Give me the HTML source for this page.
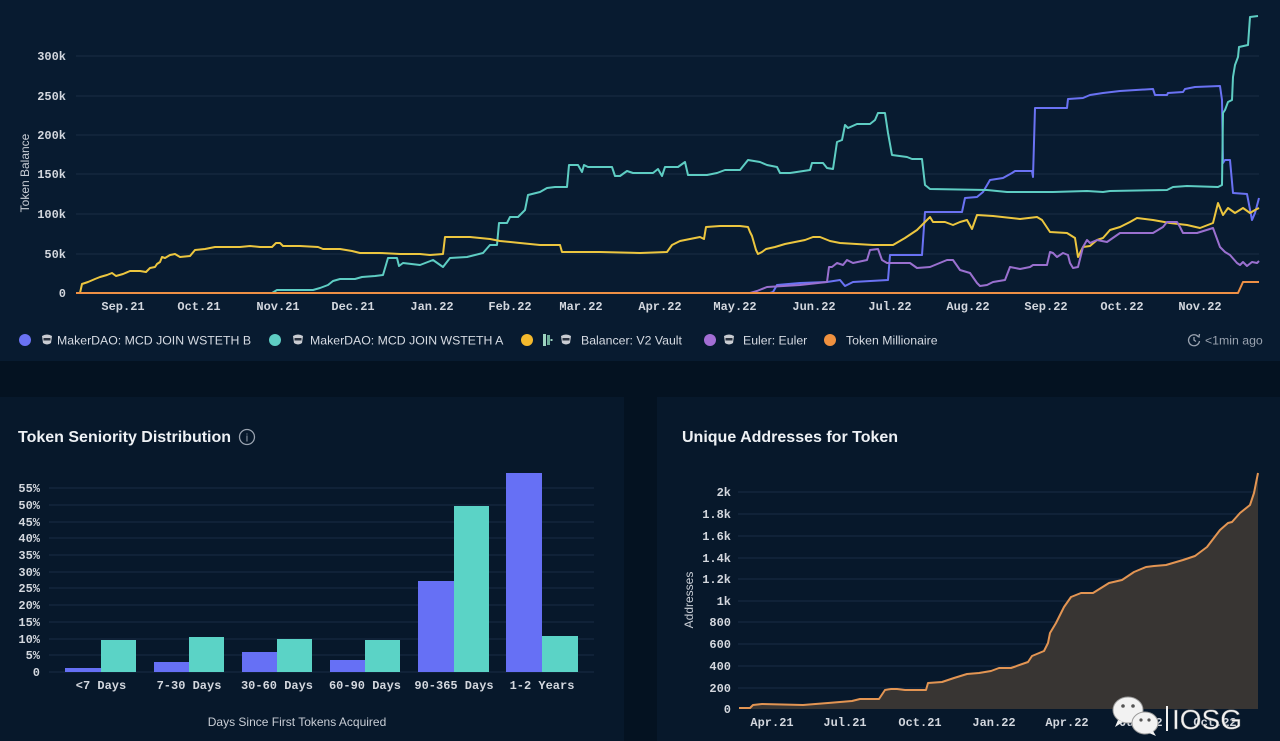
<!DOCTYPE html>
<html><head><meta charset="utf-8"><style>
html,body{margin:0;padding:0;background:#051222;}
svg{display:block}
.tk{font-family:"Liberation Mono",monospace;font-size:12px;font-weight:bold;fill:#d3d7de}
.sa{font-family:"Liberation Sans",sans-serif}
</style></head><body>
<svg width="1280" height="741" viewBox="0 0 1280 741" xmlns="http://www.w3.org/2000/svg">
<rect x="0" y="0" width="1280" height="741" fill="#041221"/>
<rect x="0" y="0" width="1280" height="361" fill="#081b30"/>
<rect x="0" y="397" width="624" height="344" fill="#07182b"/>
<rect x="657" y="397" width="623" height="344" fill="#07182b"/>

<!-- TOP CHART -->
<g stroke="#1a2d44" stroke-width="1">
<line x1="76" y1="56" x2="1259" y2="56"/><line x1="76" y1="96" x2="1259" y2="96"/>
<line x1="76" y1="135" x2="1259" y2="135"/><line x1="76" y1="174" x2="1259" y2="174"/>
<line x1="76" y1="214" x2="1259" y2="214"/><line x1="76" y1="254" x2="1259" y2="254"/>
</g>
<g class="tk" text-anchor="end">
<text x="66" y="60">300k</text><text x="66" y="100">250k</text><text x="66" y="139">200k</text>
<text x="66" y="178">150k</text><text x="66" y="218">100k</text><text x="66" y="258">50k</text>
<text x="66" y="297">0</text>
</g>
<text class="sa" x="0" y="0" transform="translate(29,173) rotate(-90)" text-anchor="middle" font-size="12" fill="#c8cdd5">Token Balance</text>
<g class="tk" text-anchor="middle">
<text x="123" y="310">Sep.21</text><text x="199" y="310">Oct.21</text><text x="278" y="310">Nov.21</text>
<text x="353" y="310">Dec.21</text><text x="432" y="310">Jan.22</text><text x="510" y="310">Feb.22</text>
<text x="581" y="310">Mar.22</text><text x="660" y="310">Apr.22</text><text x="735" y="310">May.22</text>
<text x="814" y="310">Jun.22</text><text x="890" y="310">Jul.22</text><text x="968" y="310">Aug.22</text>
<text x="1046" y="310">Sep.22</text><text x="1122" y="310">Oct.22</text><text x="1200" y="310">Nov.22</text>
</g>
<g fill="none" stroke-width="2" stroke-linejoin="round">
<polyline stroke="#6a72f3" points="76,293 770,293 773,292 777,285 800,283 827,282 840,280 845,286 853,282 888,280 890,255 922,255 925,212 962,212 965,198 977,197 983,192 990,180 1003,178 1012,173 1015,171 1032,171 1033,177 1035,108 1067,108 1068,99 1083,98 1090,95 1103,93 1120,91 1153,89 1155,95 1167,95 1168,93 1183,92 1185,89 1195,87 1220,86 1222,100 1223,163 1225,160 1230,160 1233,193 1247,194 1252,220 1255,213 1259,198"/>
<polyline stroke="#5ecdc3" points="76,293 272,293 277,290 313,290 320,288 328,285 333,281 340,279 355,279 362,277 375,276 383,275 388,258 397,258 399,266 403,263 420,265 433,260 443,267 450,258 467,257 483,253 490,245 497,245 499,223 507,223 510,217 518,217 525,210 528,195 540,192 547,188 555,187 567,187 569,165 578,165 582,172 584,165 588,167 612,167 615,176 620,176 627,171 633,173 653,173 658,169 662,176 665,167 678,167 685,162 688,175 707,175 717,173 725,170 740,170 748,160 760,162 767,165 777,167 780,173 790,173 810,170 812,163 823,163 827,168 833,169 837,142 842,140 845,125 848,128 857,124 870,124 875,120 878,113 885,113 888,133 892,155 907,157 912,159 922,159 925,185 930,189 987,190 1007,192 1053,192 1087,191 1103,192 1110,191 1167,190 1173,187 1187,186 1218,187 1222,185 1223,113 1225,110 1228,102 1232,100 1233,77 1235,65 1238,57 1239,47 1248,45 1250,17 1258,16"/>
<polyline stroke="#ecc63f" points="80,293 82,284 88,282 95,279 100,277 107,275 112,273 116,276 123,274 130,271 140,271 146,272 150,268 155,267 157,264 160,262 162,257 165,258 170,255 175,254 180,257 190,256 195,250 205,249 215,247 240,247 250,246 260,247 272,247 276,243 280,243 283,246 300,246 318,247 323,249 340,249 352,251 360,253 380,253 400,254 420,254 430,255 443,254 445,237 470,237 490,239 500,241 520,243 540,245 560,245 562,252 600,252 640,253 667,252 672,245 680,241 690,239 700,237 704,239 706,227 720,226 740,226 748,227 750,232 752,236 756,250 758,254 762,252 766,249 775,247 785,244 795,242 805,240 813,237 820,237 830,241 840,243 873,245 893,245 905,238 917,230 925,222 930,217 933,222 945,222 953,225 960,222 967,220 972,229 977,215 993,216 1020,219 1037,217 1042,220 1050,232 1067,233 1075,238 1078,257 1083,247 1090,246 1097,240 1103,238 1110,230 1120,227 1130,222 1137,218 1153,220 1170,223 1187,225 1200,228 1213,223 1218,203 1223,215 1228,208 1235,213 1243,208 1250,213 1255,210 1259,208"/>
<polyline stroke="#9a70cf" points="750,293 757,291 767,287 800,285 827,282 829,267 832,267 837,263 843,265 847,260 853,263 867,260 870,250 878,249 882,260 887,263 910,263 917,268 930,267 947,260 953,260 960,270 970,273 977,283 980,286 987,285 993,282 1005,280 1010,267 1020,269 1030,267 1033,265 1047,265 1050,252 1053,253 1057,257 1063,253 1068,255 1070,263 1073,268 1078,267 1083,247 1087,240 1090,243 1097,240 1107,242 1120,233 1137,233 1153,233 1163,227 1167,222 1177,222 1180,227 1183,233 1197,233 1213,228 1220,247 1225,252 1230,255 1237,263 1240,265 1243,262 1247,266 1252,262 1257,263 1259,261"/>
<polyline stroke="#ee9045" points="76,293 1238,293 1243,282 1259,282"/>
</g>

<!-- LEGEND -->
<g class="sa" font-size="12.3" fill="#d6dbe3">
<circle cx="25" cy="340" r="6" fill="#6a72f3"/>
<g transform="translate(47,340)"><path d="M-5,-4 Q0,-7 5,-4 L4,3 Q0,6 -4,3 Z" fill="#c9ccd2"/><rect x="-3.5" y="-2" width="7" height="2.5" fill="#2b3340"/></g>
<text x="57" y="344.5">MakerDAO: MCD JOIN WSTETH B</text>
<circle cx="275" cy="340" r="6" fill="#5ecdc3"/>
<g transform="translate(298,340)"><path d="M-5,-4 Q0,-7 5,-4 L4,3 Q0,6 -4,3 Z" fill="#c9ccd2"/><rect x="-3.5" y="-2" width="7" height="2.5" fill="#2b3340"/></g>
<text x="310" y="344.5">MakerDAO: MCD JOIN WSTETH A</text>
<circle cx="527" cy="340" r="6" fill="#f4b92d"/>
<g transform="translate(547,340)"><rect x="-4" y="-6" width="3" height="12" fill="#9ed4c0"/><rect x="0" y="-5" width="3" height="10" fill="#6fae9a"/><rect x="3.5" y="-1" width="2" height="2" fill="#9ed4c0"/></g>
<g transform="translate(566,340)"><path d="M-5,-4 Q0,-7 5,-4 L4,3 Q0,6 -4,3 Z" fill="#c9ccd2"/><rect x="-3.5" y="-2" width="7" height="2.5" fill="#2b3340"/></g>
<text x="581" y="344.5">Balancer: V2 Vault</text>
<circle cx="710" cy="340" r="6" fill="#a36ed4"/>
<g transform="translate(729,340)"><path d="M-5,-4 Q0,-7 5,-4 L4,3 Q0,6 -4,3 Z" fill="#c9ccd2"/><rect x="-3.5" y="-2" width="7" height="2.5" fill="#2b3340"/></g>
<text x="743" y="344.5">Euler: Euler</text>
<circle cx="830" cy="340" r="6" fill="#f0913f"/>
<text x="846" y="344.5">Token Millionaire</text>
<g transform="translate(1194,340)" fill="none" stroke="#9aa3b0" stroke-width="1.3"><path d="M4.5,-3 A5.5,5.5 0 1 0 5.5,1"/><path d="M0,-3 L0,0 L2,1.5"/><path d="M2.5,-4.5 L5,-3 L5.5,-6" /></g>
<text x="1205" y="344.5" fill="#9aa3b0">&lt;1min ago</text>
</g>

<!-- BOTTOM LEFT -->
<text class="sa" x="18" y="442" font-size="16" font-weight="bold" fill="#eef1f5">Token Seniority Distribution</text>
<circle cx="247" cy="437" r="7.5" fill="none" stroke="#9aa3b0" stroke-width="1.3"/>
<text class="sa" x="247" y="441.5" font-size="11" text-anchor="middle" fill="#9aa3b0">i</text>
<g stroke="#1a2d44" stroke-width="1">
<line x1="49" y1="488" x2="594" y2="488"/><line x1="49" y1="505" x2="594" y2="505"/>
<line x1="49" y1="522" x2="594" y2="522"/><line x1="49" y1="538" x2="594" y2="538"/>
<line x1="49" y1="555" x2="594" y2="555"/><line x1="49" y1="572" x2="594" y2="572"/>
<line x1="49" y1="588" x2="594" y2="588"/><line x1="49" y1="605" x2="594" y2="605"/>
<line x1="49" y1="622" x2="594" y2="622"/><line x1="49" y1="639" x2="594" y2="639"/>
<line x1="49" y1="655" x2="594" y2="655"/><line x1="49" y1="672" x2="594" y2="672"/>
</g>
<g class="tk" text-anchor="end">
<text x="40" y="492">55%</text><text x="40" y="509">50%</text><text x="40" y="526">45%</text>
<text x="40" y="542">40%</text><text x="40" y="559">35%</text><text x="40" y="576">30%</text>
<text x="40" y="592">25%</text><text x="40" y="609">20%</text><text x="40" y="626">15%</text>
<text x="40" y="643">10%</text><text x="40" y="659">5%</text><text x="40" y="676">0</text>
</g>
<g fill="#6670f5">
<rect x="65" y="668" width="36" height="4"/><rect x="154" y="662" width="35" height="10"/>
<rect x="242" y="652" width="35" height="20"/><rect x="330" y="660" width="35" height="12"/>
<rect x="418" y="581" width="36" height="91"/><rect x="506" y="473" width="36" height="199"/>
</g>
<g fill="#5bd3c6">
<rect x="101" y="640" width="35" height="32"/><rect x="189" y="637" width="35" height="35"/>
<rect x="277" y="639" width="35" height="33"/><rect x="365" y="640" width="35" height="32"/>
<rect x="454" y="506" width="35" height="166"/><rect x="542" y="636" width="36" height="36"/>
</g>
<g class="tk" text-anchor="middle">
<text x="101" y="689">&lt;7 Days</text><text x="189" y="689">7-30 Days</text><text x="277" y="689">30-60 Days</text>
<text x="365" y="689">60-90 Days</text><text x="454" y="689">90-365 Days</text><text x="542" y="689">1-2 Years</text>
</g>
<text class="sa" x="297" y="726" font-size="12" text-anchor="middle" fill="#c8cdd5">Days Since First Tokens Acquired</text>

<!-- BOTTOM RIGHT -->
<text class="sa" x="682" y="442" font-size="16" font-weight="bold" fill="#eef1f5">Unique Addresses for Token</text>
<g stroke="#1a2d44" stroke-width="1">
<line x1="738" y1="492" x2="1258" y2="492"/><line x1="738" y1="514" x2="1258" y2="514"/>
<line x1="738" y1="536" x2="1258" y2="536"/><line x1="738" y1="558" x2="1258" y2="558"/>
<line x1="738" y1="579" x2="1258" y2="579"/><line x1="738" y1="601" x2="1258" y2="601"/>
<line x1="738" y1="622" x2="1258" y2="622"/><line x1="738" y1="644" x2="1258" y2="644"/>
<line x1="738" y1="666" x2="1258" y2="666"/><line x1="738" y1="688" x2="1258" y2="688"/>
</g>
<g class="tk" text-anchor="end">
<text x="731" y="496">2k</text><text x="731" y="518">1.8k</text><text x="731" y="540">1.6k</text>
<text x="731" y="562">1.4k</text><text x="731" y="583">1.2k</text><text x="731" y="605">1k</text>
<text x="731" y="626">800</text><text x="731" y="648">600</text><text x="731" y="670">400</text>
<text x="731" y="692">200</text><text x="731" y="713">0</text>
</g>
<text class="sa" x="0" y="0" transform="translate(693,600) rotate(-90)" text-anchor="middle" font-size="12" fill="#c8cdd5">Addresses</text>
<path d="M739,709 L739,708 750,708 753,705 762,704 803,705 828,703 852,701 860,699 879,699 885,690 891,689 897,689 905,690 926,690 928,683 942,682 954,678 967,674 979,673 991,671 999,668 1011,668 1028,662 1032,656 1044,651 1048,643 1050,633 1056,623 1064,607 1071,597 1081,593 1093,593 1101,588 1109,583 1122,580 1134,572 1146,567 1154,566 1166,565 1183,560 1195,556 1207,547 1220,530 1228,523 1232,522 1240,513 1250,505 1254,493 1258,473 L1258,709 Z" fill="#383533"/>
<polyline fill="none" stroke="#e39553" stroke-width="2" stroke-linejoin="round" points="739,708 750,708 753,705 762,704 803,705 828,703 852,701 860,699 879,699 885,690 891,689 897,689 905,690 926,690 928,683 942,682 954,678 967,674 979,673 991,671 999,668 1011,668 1028,662 1032,656 1044,651 1048,643 1050,633 1056,623 1064,607 1071,597 1081,593 1093,593 1101,588 1109,583 1122,580 1134,572 1146,567 1154,566 1166,565 1183,560 1195,556 1207,547 1220,530 1228,523 1232,522 1240,513 1250,505 1254,493 1258,473"/>
<g class="tk" text-anchor="middle">
<text x="772" y="726">Apr.21</text><text x="845" y="726">Jul.21</text><text x="920" y="726">Oct.21</text>
<text x="994" y="726">Jan.22</text><text x="1067" y="726">Apr.22</text><text x="1141" y="726">Jul.22</text>
<text x="1215" y="726">Oct.22</text>
</g>

<!-- WATERMARK -->
<g>
<ellipse cx="1128" cy="710" rx="15" ry="13" fill="#f2f2f2" stroke="#9a9a9a" stroke-width="1"/>
<path d="M1118,720 L1115,727 L1123,722 Z" fill="#f2f2f2"/>
<circle cx="1123" cy="706" r="1.8" fill="#555"/><circle cx="1133" cy="706" r="1.8" fill="#555"/>
<ellipse cx="1145" cy="723" rx="13" ry="11" fill="#f2f2f2" stroke="#9a9a9a" stroke-width="1"/>
<path d="M1153,731 L1156,736 L1149,733 Z" fill="#f2f2f2"/>
<circle cx="1141" cy="720" r="1.6" fill="#555"/><circle cx="1149" cy="720" r="1.6" fill="#555"/>
<rect x="1166" y="706" width="2" height="25" fill="#f0f0f0"/>
<text class="sa" x="1172" y="729" font-size="28" fill="#f2f2f2" stroke="#777" stroke-width="0.4">IOSG</text>
</g>
</svg>
</body></html>
